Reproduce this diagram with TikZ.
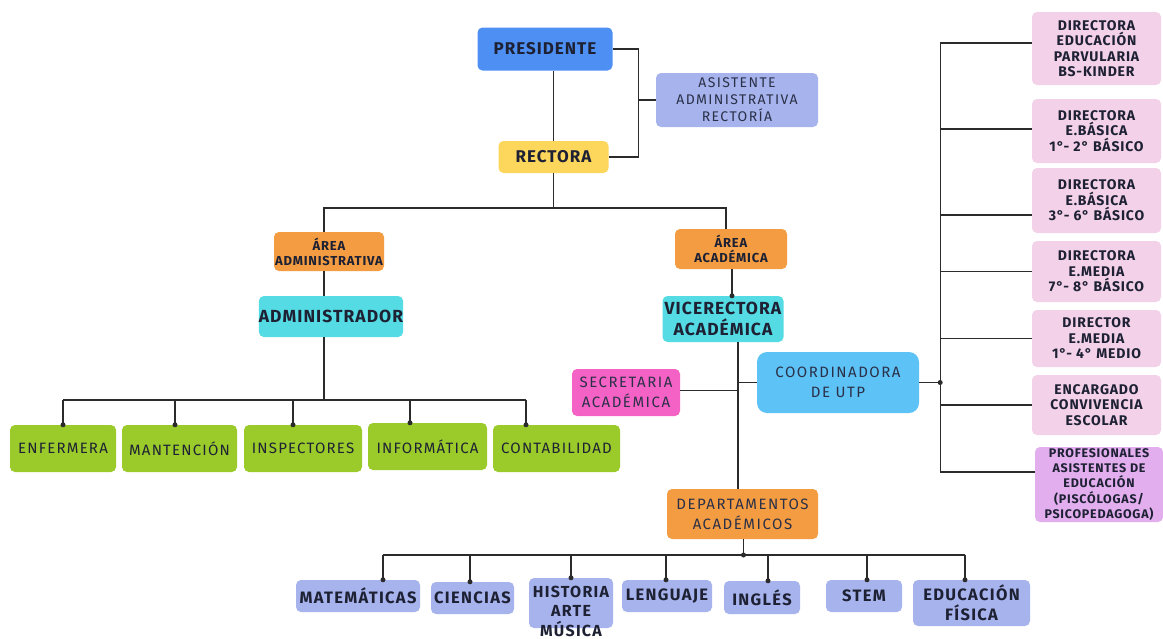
\documentclass[tikz,border=0pt]{standalone}
\usepackage{fontspec}
\setmainfont{Fira Sans}
\newfontfamily\wfont{Fira Sans}[LetterSpace=6]
\newfontfamily\rfont{Fira Sans}[LetterSpace=10]
\newfontfamily\gfont{Fira Sans}[LetterSpace=8]
\usetikzlibrary{calc}
\definecolor{cblue}{HTML}{4D8FF3}
\definecolor{clav}{HTML}{A7B3EC}
\definecolor{cyel}{HTML}{FDD75C}
\definecolor{corg}{HTML}{F39C42}
\definecolor{ccyan}{HTML}{55DBE3}
\definecolor{cgreen}{HTML}{9BCB2B}
\definecolor{cmag}{HTML}{F562C5}
\definecolor{clblue}{HTML}{5DC2F5}
\definecolor{cpink}{HTML}{F3D1E9}
\definecolor{cpurp}{HTML}{E2AEEE}
\definecolor{lc}{HTML}{2B2B2B}
\definecolor{txt}{HTML}{1D2133}
\definecolor{txtr}{HTML}{2A3048}
\begin{document}
\begin{tikzpicture}[x=1pt,y=-1pt,
  box/.style={rounded corners=5pt, draw=none, align=center, inner sep=0pt, text=txt},
  ln/.style={line width=1.3pt, draw=lc},
  dot/.style={circle, fill=lc, inner sep=0pt, minimum size=5pt},
  rg/.style={text=txtr, font=\rfont\fontsize{15}{19.5}\selectfont},
  gr/.style={box, fill=cgreen, minimum width=#1, minimum height=47pt, font=\gfont\fontsize{15}{18}\selectfont},
  rb/.style={box, fill=cpink, minimum width=129pt, font=\wfont\bfseries\fontsize{14}{15.5}\selectfont},
  bt/.style={box, fill=clav, font=\gfont\bfseries\fontsize{16.5}{20}\selectfont}
]
\useasboundingbox[fill=white] (0,0) rectangle (1163,638);

% top
\node[box, fill=cblue, minimum width=135pt, minimum height=43pt, font=\wfont\bfseries\fontsize{17}{18}\selectfont] (pres) at (545,49) {PRESIDENTE};
\node[box, fill=clav, minimum width=162pt, minimum height=54pt, rg, font=\rfont\fontsize{14}{17}\selectfont] (asis) at (737,100) {ASISTENTE\\ADMINISTRATIVA\\RECTORÍA};
\node[box, fill=cyel, minimum width=110pt, minimum height=32pt, font=\wfont\bfseries\fontsize{17}{18}\selectfont] (rect) at (553.5,157) {RECTORA};

\coordinate (pr) at ($(pres.east)+(26,0)$);
\draw[ln] (pres.east) -- (pr) |- (rect.east);
\draw[ln] (asis.west) -- (asis.west -| pr);
\draw[ln] (rect.north) -- (rect.north |- pres.south);

% areas
\node[box, fill=corg, minimum width=110pt, minimum height=39pt, font=\wfont\bfseries\fontsize{13}{15}\selectfont] (areaadm) at (329,251.5) {ÁREA\\ADMINISTRATIVA};
\node[box, fill=corg, minimum width=112pt, minimum height=40pt, font=\wfont\bfseries\fontsize{13}{15}\selectfont] (areaacad) at (731,249) {ÁREA\\ACADÉMICA};
\node[box, fill=ccyan, minimum width=144pt, minimum height=41pt, font=\wfont\bfseries\fontsize{17.5}{20}\selectfont] (admin) at (331,316.5) {ADMINISTRADOR};
\node[box, fill=ccyan, minimum width=121pt, minimum height=46pt, font=\wfont\bfseries\fontsize{17.5}{21}\selectfont] (vice) at (723,319) {VICERECTORA\\ACADÉMICA};

\coordinate (topbus) at (553,208);
\draw[ln] (rect.south) -- (rect.south |- topbus);
\draw[ln] ([xshift=-5pt]areaadm.north) |- (topbus) -| ([xshift=-5pt]areaacad.north);
\draw[ln] ([xshift=-5pt]areaadm.south) -- ([xshift=-5pt]areaadm.south |- admin.north);
\draw[ln] ([xshift=1pt]areaacad.south) -- ([xshift=1pt]areaacad.south |- vice.north) node[dot]{};

% green row
\node[gr=106pt] (enf) at (63,448.5) {ENFERMERA};
\node[gr=115pt] (man) at (179.5,448.5) {MANTENCIÓN};
\node[gr=118pt] (insp) at (303,448.5) {INSPECTORES};
\node[gr=119pt] (inf) at (427.5,446.5) {INFORMÁTICA};
\node[gr=127pt] (cont) at (556.5,448.5) {CONTABILIDAD};

\coordinate (gb) at (324,400);
\draw[ln] ([xshift=-7pt]admin.south) -- (gb);
\coordinate (tenf) at (enf.north);
\coordinate (tman) at ([xshift=-4.5pt]man.north);
\coordinate (tinsp) at ([xshift=-10pt]insp.north);
\coordinate (tinf) at ([xshift=-17.5pt]inf.north);
\coordinate (tcont) at ([xshift=-30.5pt]cont.north);
\draw[ln] (tenf |- gb) -- (tcont |- gb);
\foreach \t in {tenf,tman,tinsp,tinf,tcont}{
  \draw[ln] (\t |- gb) -- (\t) node[dot]{};
}

% academic
\node[box, fill=cmag, minimum width=108pt, minimum height=47pt, rg] (sec) at (626,392.5) {SECRETARIA\\ACADÉMICA};
\node[box, fill=clblue, minimum width=162pt, minimum height=61pt, rg, font=\rfont\fontsize{15}{20}\selectfont, rounded corners=10pt] (coord) at (838,382.5) {COORDINADORA\\DE UTP};
\node[box, fill=corg, minimum width=151pt, minimum height=50pt, rg, font=\rfont\fontsize{15}{20}\selectfont] (dept) at (742.5,514) {DEPARTAMENTOS\\ACADÉMICOS};

\coordinate (sp) at ([xshift=15pt]vice.south);
\draw[ln] (sp) -- (sp |- dept.north);
\draw[ln] ([yshift=2pt]sec.east) -- ([yshift=2pt]sec.east -| sp);
\draw[ln] (coord.west) -- (coord.west -| sp);

% right column
\node[rb, minimum height=73pt] (r1) at (1096.5,48.5) {DIRECTORA\\EDUCACIÓN\\PARVULARIA\\BS-KINDER};
\node[rb, minimum height=64pt] (r2) at (1096.5,131) {DIRECTORA\\E.BÁSICA\\1°- 2° BÁSICO};
\node[rb, minimum height=65pt] (r3) at (1096.5,200.5) {DIRECTORA\\E.BÁSICA\\3°- 6° BÁSICO};
\node[rb, minimum height=61pt] (r4) at (1096.5,271.5) {DIRECTORA\\E.MEDIA\\7°- 8° BÁSICO};
\node[rb, minimum height=57pt] (r5) at (1096.5,338.5) {DIRECTOR\\E.MEDIA\\1°- 4° MEDIO};
\node[rb, minimum height=60pt] (r6) at (1096.5,405) {ENCARGADO\\CONVIVENCIA\\ESCOLAR};
\node[rb, fill=cpurp, minimum width=128pt, minimum height=75pt, font=\wfont\bfseries\fontsize{12.5}{15.4}\selectfont] (r7) at (1099,484.5) {PROFESIONALES\\ASISTENTES DE\\EDUCACIÓN\\(PISCÓLOGAS/\\PSICOPEDAGOGA)};

\coordinate (rt) at ($(coord.east)+(21,0)$);
\draw[ln] (coord.east) -- (rt) node[dot]{};
\draw[ln] ([yshift=5.5pt]r1.west) -| ([yshift=12.5pt]r7.west -| rt) -- ([yshift=12.5pt]r7.west);
\draw[ln] ([yshift=2pt]r2.west) -- ([yshift=2pt]r2.west -| rt);
\draw[ln] ([yshift=-14.5pt]r3.west) -- ([yshift=-14.5pt]r3.west -| rt);
\draw[ln] (r4.west) -- (r4.west -| rt);
\draw[ln] (r5.west) -- (r5.west -| rt);
\draw[ln] (r6.west) -- (r6.west -| rt);

% bottom row
\node[bt, minimum width=124pt, minimum height=32pt] (mat) at (358,596) {MATEMÁTICAS};
\node[bt, minimum width=83pt, minimum height=32pt] (cie) at (472.5,598) {CIENCIAS};
\node[bt, minimum width=84pt, minimum height=50pt] (his) at (571,603) {};
\node[font=\gfont\bfseries\fontsize{16}{19.5}\selectfont, text=txt, align=center, inner sep=0pt] (histxt) at (571,611) {HISTORIA\\ARTE\\MÚSICA};
\node[bt, minimum width=90pt, minimum height=32pt] (len) at (667,596) {LENGUAJE};
\node[bt, minimum width=76pt, minimum height=33pt] (ing) at (762,597.5) {INGLÉS};
\node[bt, minimum width=76pt, minimum height=32pt] (stem) at (864,596) {STEM};
\node[bt, minimum width=117pt, minimum height=46pt] (edu) at (971.5,603) {EDUCACIÓN\\FÍSICA};

\coordinate (bb) at (743.5,555);
\draw[ln] ([xshift=1pt]dept.south) -- (bb) node[dot]{};
\coordinate (tmat) at ([xshift=25pt]mat.north);
\coordinate (tcie) at ([xshift=-2.5pt]cie.north);
\coordinate (this) at (his.north);
\coordinate (tlen) at ([xshift=-1pt]len.north);
\coordinate (ting) at ([xshift=6pt]ing.north);
\coordinate (tstem) at ([xshift=3pt]stem.north);
\coordinate (tedu) at ([xshift=-6.5pt]edu.north);
\draw[ln] (tmat |- bb) -- (tedu |- bb);
\foreach \t in {tmat,tcie,this,tlen,ting,tstem,tedu}{
  \draw[ln] (\t |- bb) -- (\t) node[dot]{};
}
\end{tikzpicture}
\end{document}
